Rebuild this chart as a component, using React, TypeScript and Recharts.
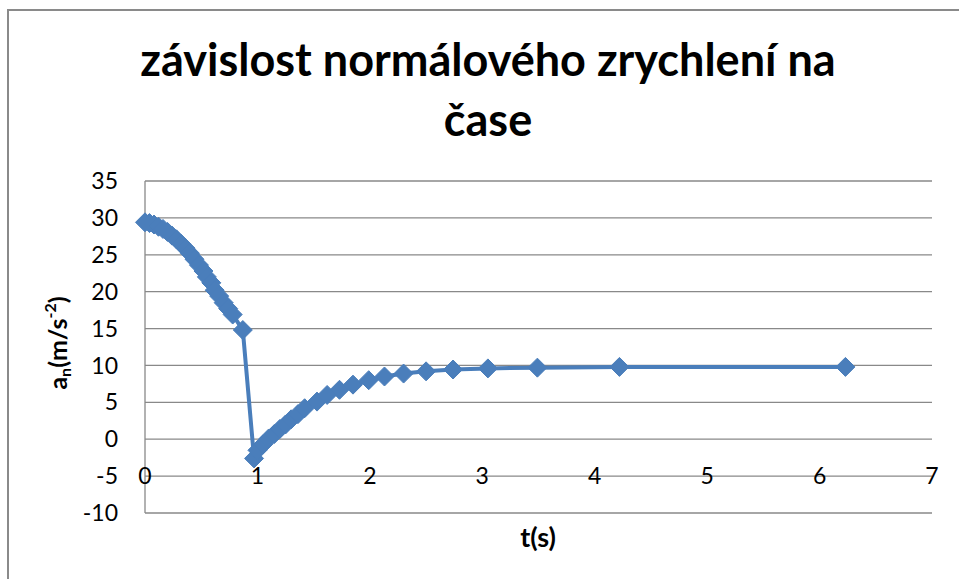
import { CartesianGrid, Line, LineChart, XAxis, YAxis } from 'recharts';

const timeValues = [
	0, 0.04, 0.08, 0.12, 0.16, 0.2, 0.24, 0.28, 0.32, 0.36, 0.4, 0.44, 0.48, 0.52, 0.55, 0.59, 0.62,
	0.66, 0.7, 0.74, 0.78, 0.87, 0.97, 1.0, 1.05, 1.1, 1.15, 1.2, 1.25, 1.3, 1.36, 1.42, 1.53, 1.62,
	1.73, 1.85, 1.99, 2.13, 2.3, 2.5, 2.74, 3.05, 3.49, 4.22, 6.23
];

const normalAccel = [
	29.4, 29.3, 29.1, 28.8, 28.5, 28.1, 27.6, 27.1, 26.5, 25.9, 25.2, 24.4, 23.6, 22.8, 22.0, 21.2, 20.2,
	19.4, 18.5, 17.7, 16.9, 14.8, -2.6, -1.5, -0.7, 0.1, 0.7, 1.4, 2.0, 2.7, 3.4, 4.2, 5.1, 6.0,
	6.7, 7.4, 8.0, 8.5, 8.9, 9.2, 9.45, 9.6, 9.7, 9.8, 9.8
];

const xTicks = [0, 1, 2, 3, 4, 5, 6, 7];
const yTicks = [-10, -5, 0, 5, 10, 15, 20, 25, 30, 35];

const data = timeValues.map((t, i) => ({ t, an: normalAccel[i] }));

const FONT = 'Lato, "Open Sans", sans-serif';
const SERIES = '#4A7EBB';
const GRID = '#898989';

function Diamond({ cx, cy }: { cx?: number; cy?: number }) {
	if (cx == null || cy == null) return null;
	const r = 9.5;
	return (
		<polygon
			points={`${cx},${cy - r} ${cx + r},${cy} ${cx},${cy + r} ${cx - r},${cy}`}
			fill={SERIES}
			stroke={SERIES}
			strokeWidth={1}
		/>
	);
}

// x labels sit on the -5 gridline (axis crosses there), not under the plot
function XTick(props: any) {
	const { x, y, payload } = props;
	return (
		<text
			x={x}
			y={y - 37}
			dy="0.36em"
			textAnchor="middle"
			fontFamily={FONT}
			fontSize={23}
			fill="#000"
		>
			{payload?.value}
		</text>
	);
}

export default function App() {
	return (
		<div style={{ position: 'absolute', left: 0, top: 0, width: 959, height: 579, overflow: 'hidden', background: '#fff' }}>
			<div style={{ position: 'absolute', left: 7, top: 9, width: 2, height: 570, background: '#8a8a8a' }} />
			<div style={{ position: 'absolute', left: 7, top: 9, width: 952, height: 2, background: '#8a8a8a' }} />
			<LineChart
				width={959}
				height={579}
				data={data}
				margin={{ top: 181, right: 27, bottom: 36, left: 105 }}
				style={{ position: 'absolute', left: 0, top: 0 }}
			>
				<CartesianGrid stroke={GRID} strokeWidth={1.3} vertical={false} />
				<XAxis
					dataKey="t"
					type="number"
					domain={[0, 7]}
					ticks={xTicks}
					axisLine={false}
					tickLine={false}
					tickSize={0}
					tickMargin={0}
					tick={XTick}
					height={30}
					interval={0}
				/>
				<YAxis
					type="number"
					domain={[-10, 35]}
					ticks={yTicks}
					width={40}
					axisLine={{ stroke: GRID, strokeWidth: 1.3 }}
					tickLine={false}
					tickSize={0}
					tickMargin={27}
					interval={0}
					tick={{ fontFamily: FONT, fontSize: 23, fill: '#000' }}
				/>
				<Line
					type="linear"
					dataKey="an"
					stroke={SERIES}
					strokeWidth={4}
					dot={<Diamond />}
					activeDot={false}
					isAnimationActive={false}
				/>
				<text textAnchor="middle" fontFamily={FONT} fontWeight={700} fontSize={45} fill="#000">
					<tspan x={488} y={76}>závislost normálového zrychlení na</tspan>
					<tspan x={488} y={136}>čase</tspan>
				</text>
				<text
					transform="translate(61 343) rotate(-90)"
					textAnchor="middle"
					dominantBaseline="middle"
					fontFamily={FONT}
					fontWeight={700}
					fontSize={25}
					fill="#000"
				>
					a<tspan fontSize={16} dy={6}>n</tspan>
					<tspan dy={-6}>(m/s</tspan>
					<tspan fontSize={16} dy={-9}>-2</tspan>
					<tspan dy={9}>)</tspan>
				</text>
				<text
					x={538}
					y={540}
					textAnchor="middle"
					dominantBaseline="middle"
					fontFamily={FONT}
					fontWeight={700}
					fontSize={27}
					fill="#000"
				>
					t(s)
				</text>
			</LineChart>
		</div>
	);
}
